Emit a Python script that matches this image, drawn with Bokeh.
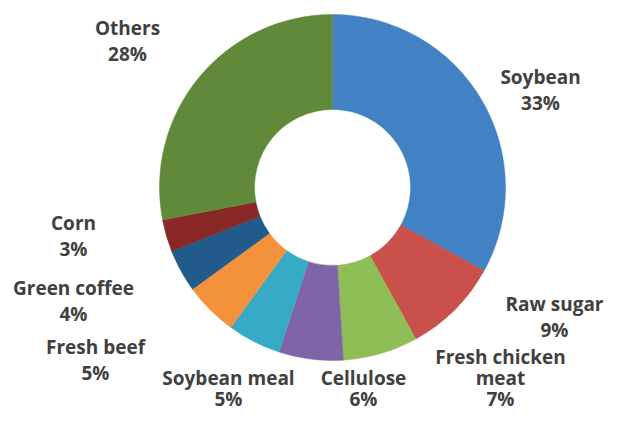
import math
from bokeh.plotting import figure
from bokeh.models import Range1d, ColumnDataSource
from bokeh.core.properties import value
from bokeh.embed import file_html
from bokeh.resources import INLINE

# data
categories = ["Soybean", "Raw sugar", "Fresh chicken meat", "Cellulose", "Soybean meal",
              "Fresh beef", "Green coffee", "Corn", "Others"]
shares = [33, 9, 7, 6, 5, 5, 4, 3, 28]
label_lines = [["Soybean"], ["Raw sugar"], ["Fresh chicken", "meat"], ["Cellulose"],
               ["Soybean meal"], ["Fresh beef"], ["Green coffee"], ["Corn"], ["Others"]]

# styles / layout
colors = ["#4282C4", "#C9504B", "#90BE56", "#7F65A8", "#37ABC6",
          "#F4923C", "#215B8C", "#8A2727", "#60893A"]
# label anchor (screen px, centre of first line) and line spacing
label_pos = [(540, 76), (554, 303), (500, 356), (363, 377), (228, 377),
             (95, 346), (73, 287), (73, 222), (127, 27)]
label_gap = [26, 26, 21, 21, 21, 26, 26, 26, 26]

W, H = 607, 413
cx_s, cy_s = 332, 187
r_out, r_in = 173, 78

p = figure(width=W, height=H, output_backend="svg", toolbar_location=None,
           x_range=Range1d(0, W), y_range=Range1d(0, H), min_border=0)
p.axis.visible = False
p.grid.visible = False
p.outline_line_color = None
p.background_fill_color = "white"


def sy(y):
    return H - y


total = sum(shares)
starts, ends = [], []
cum = 0
for s in shares:
    a0 = math.pi / 2 - 2 * math.pi * cum / total
    cum += s
    a1 = math.pi / 2 - 2 * math.pi * cum / total
    starts.append(a0)
    ends.append(a1)

src = ColumnDataSource(dict(cat=categories, start=starts, end=ends, color=colors))
p.annular_wedge(x=cx_s, y=sy(cy_s), inner_radius=r_in, outer_radius=r_out,
                start_angle="start", end_angle="end", direction="clock",
                fill_color="color", line_color="color", line_width=0.5, source=src)

tx, ty, tt = [], [], []
for lines, s, (lx, ly), g in zip(label_lines, shares, label_pos, label_gap):
    allines = lines + [f"{s}%"]
    for i, t in enumerate(allines):
        tx.append(lx)
        ty.append(sy(ly + i * g))
        tt.append(t)

p.text(x=tx, y=ty, text=tt, text_font=value("Open Sans"), text_font_style="bold",
       text_font_size="19px", text_color="#404040", text_align="center",
       text_baseline="middle")

open("out.html", "w").write(file_html(p, INLINE))
